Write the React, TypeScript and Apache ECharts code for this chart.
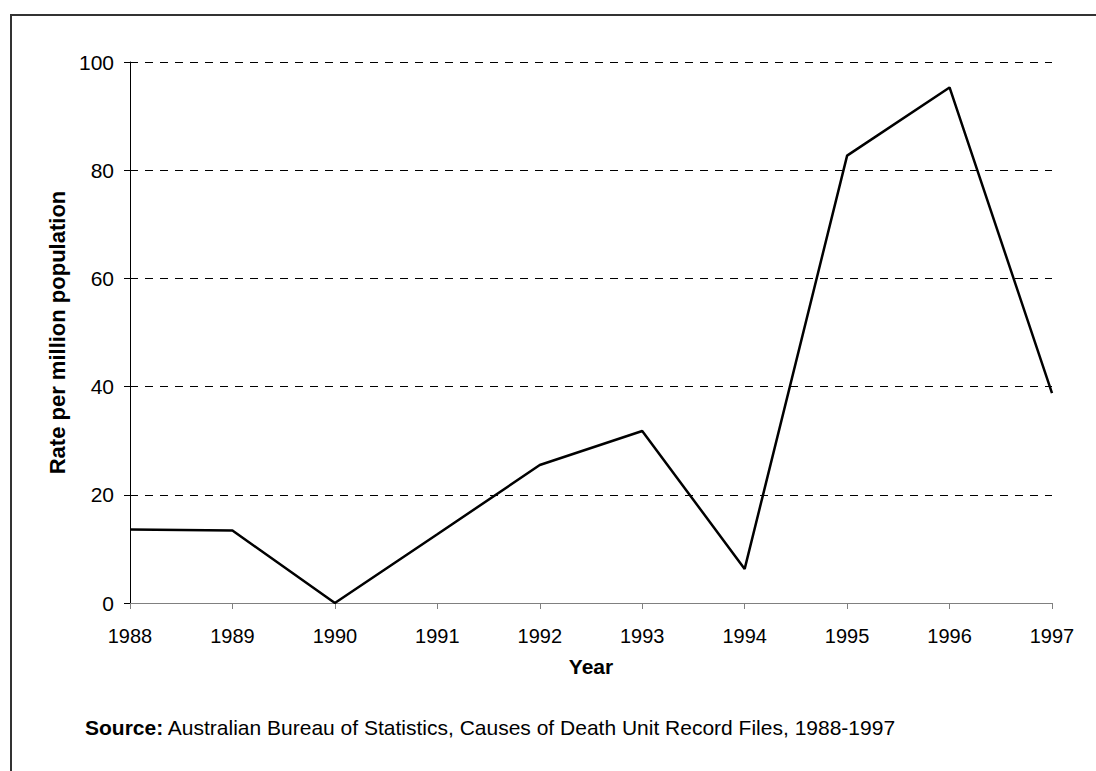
import React, { useEffect, useRef } from "react";
import * as echarts from "echarts";

const years = ["1988", "1989", "1990", "1991", "1992", "1993", "1994", "1995", "1996", "1997"];
const rates = [13.6, 13.4, 0, 12.7, 25.5, 31.8, 6.3, 82.7, 95.3, 38.8];
const yTicks = [0, 20, 40, 60, 80, 100];

export default function App() {
  const ref = useRef<HTMLDivElement>(null);
  useEffect(() => {
    if (!ref.current) return;
    const chart = echarts.init(ref.current, null, { renderer: "svg" });
    const font = "Liberation Sans, Arial, sans-serif";
    chart.setOption({
      animation: false,
      backgroundColor: "#ffffff",
      grid: { left: 130, right: 44, top: 62, bottom: 168 },
      xAxis: {
        type: "category",
        data: years,
        boundaryGap: false,
        name: "Year",
        nameLocation: "middle",
        nameGap: 53,
        nameTextStyle: { fontFamily: font, fontSize: 21, fontWeight: "bold", color: "#000" },
        axisLine: { lineStyle: { color: "#808080", width: 1 } },
        axisTick: { show: true, length: 6, lineStyle: { color: "#808080" }, alignWithLabel: true },
        axisLabel: { fontFamily: font, fontSize: 20, color: "#000", margin: 23 },
        splitLine: { show: false },
      },
      yAxis: {
        type: "value",
        min: yTicks[0],
        max: yTicks[yTicks.length - 1],
        interval: 20,
        name: "Rate per million population",
        nameLocation: "middle",
        nameGap: 58,
        nameTextStyle: { fontFamily: font, fontSize: 22, fontWeight: "bold", color: "#000" },
        axisLine: { show: true, lineStyle: { color: "#000", width: 1 } },
        axisTick: { show: true, length: 6, lineStyle: { color: "#000" } },
        axisLabel: { fontFamily: font, fontSize: 21, color: "#000", margin: 16 },
        splitLine: { show: true, lineStyle: { color: "#000", type: [8, 7], width: 1 } },
      },
      series: [
        {
          type: "line",
          data: rates,
          showSymbol: false,
          symbol: "none",
          lineStyle: { color: "#000", width: 2.5 },
          z: 5,
        },
      ],
      graphic: [
        {
          type: "rect",
          shape: { x: 11, y: 15, width: 1200, height: 900 },
          style: { fill: "none", stroke: "#333", lineWidth: 2 },
          silent: true,
        },
        {
          type: "text",
          x: 85,
          y: 727,
          style: {
            text: "{b|Source:} Australian Bureau of Statistics, Causes of Death Unit Record Files, 1988-1997",
            fontFamily: font,
            fontSize: 21,
            fill: "#000",
            verticalAlign: "middle",
            rich: { b: { fontWeight: "bold", fontFamily: font, fontSize: 21, fill: "#000" } },
          },
        },
      ],
    });
    return () => chart.dispose();
  }, []);
  return (
    <div
      ref={ref}
      style={{ position: "fixed", left: 0, top: 0, width: 1096, height: 771 }}
    />
  );
}
